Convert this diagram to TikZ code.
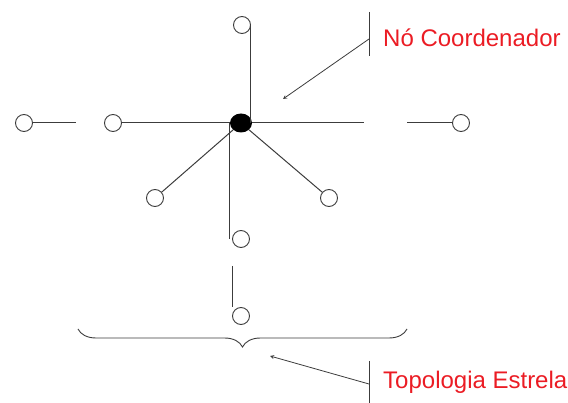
\documentclass[tikz,border=0pt]{standalone}
\usepackage{fontspec}
\setmainfont{Liberation Sans}
\usetikzlibrary{shapes.geometric, decorations.pathreplacing}
\definecolor{labelred}{RGB}{235,28,36}
\definecolor{linegray}{RGB}{60,60,60}
\begin{document}
\begin{tikzpicture}[>=stealth, x=1pt, y=-1pt,
  leaf/.style={draw=linegray, circle, line width=0.9pt, minimum size=17pt, inner sep=0pt},
  hub/.style={fill=black, ellipse, minimum width=22pt, minimum height=19pt, inner sep=0pt},
  wire/.style={draw=linegray, line width=1pt},
  note/.style={text=labelred, font=\fontsize{24}{27}\selectfont, anchor=west, inner sep=0pt}]
\useasboundingbox (0,0) rectangle (568,403);

\node[hub] (hub) at (241,123) {};
\node[leaf] (top) at (242,25) {};
\node[leaf] (farleft) at (24,123) {};
\node[leaf] (left) at (113,123) {};
\node[leaf] (right) at (461,123) {};
\node[leaf] (lowleft) at (155,198) {};
\node[leaf] (lowright) at (329,198) {};
\node[leaf] (down) at (241,239) {};
\node[leaf] (bottom) at (241,316) {};

\coordinate (gapL) at (76,123);
\coordinate (gapR) at (364,123);
\coordinate (gapRend) at (407,123);
\coordinate (gapD) at (232,266);

\draw[wire] (farleft) -- (gapL);
\draw[wire] (left) -- (hub);
\draw[wire] (hub) -- (gapR);
\draw[wire] (gapRend) -- (right);
\draw[wire] (top.east) -- (top.east |- hub.center);
\draw[wire] (hub.west) -- (hub.west |- down.west);
\draw[wire] (hub) -- (lowleft);
\draw[wire] (hub) -- (lowright);
\draw[wire] (gapD) -- (gapD |- bottom.north);

% brace under the star
\coordinate (braceL) at (78,329);
\coordinate (braceR) at (407,329);
\draw[wire, line width=0.9pt, decorate, decoration={brace, amplitude=18pt, mirror}] (braceL) -- (braceR);

% labels with pointers
\node[note] (coordlabel) at (383,38) {Nó Coordenador};
\node[note] (starlabel) at (383,382) {Topologia Estrela};
\coordinate (tick1top) at (369,12);
\coordinate (tick1bot) at (369,56);
\coordinate (tick1) at (369,39);
\coordinate (hubmark) at (283,99);
\coordinate (tick2top) at (369,361);
\coordinate (tick2bot) at (369,403);
\coordinate (tick2) at (369,384);
\coordinate (bracemark) at (270,356);
\draw[wire, line width=0.8pt] (tick1top) -- (tick1bot);
\draw[wire, line width=0.8pt] (tick2top) -- (tick2bot);
\draw[wire, line width=0.8pt, ->] (tick1) -- (hubmark);
\draw[wire, line width=0.8pt, ->] (tick2) -- (bracemark);
\end{tikzpicture}
\end{document}
